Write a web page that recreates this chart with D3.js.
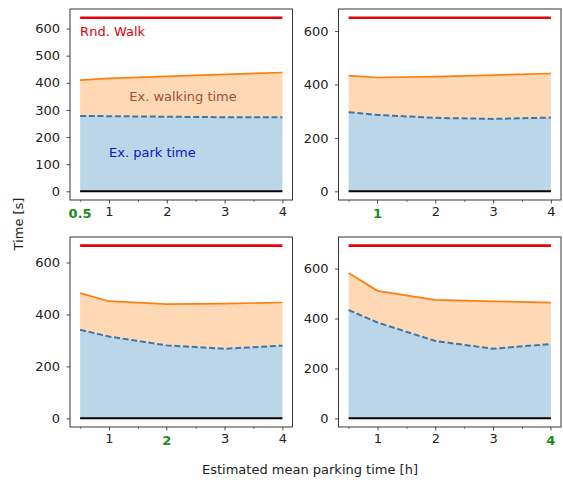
<!DOCTYPE html>
<html>
<head>
<meta charset="utf-8">
<script src="https://cdn.jsdelivr.net/npm/d3@7"></script>
<style>
	body { margin: 0; background: #fff; }
	svg { font-family: "DejaVu Sans", sans-serif; }
</style>
</head>
<body>
<svg id="chart" width="563" height="482"></svg>
<script>
// estimated mean parking time [h]
var hours = [ 0.5, 1, 2, 3, 4 ];
var minorHours = [ 0.5, 1.5, 2.5, 3.5 ];
var majorHours = [ 1, 2, 3, 4 ];
// which hour each panel stands for (green tick)
var panelHour = [ 0.5, 1, 2, 4 ];
var panelHourLabel = [ "0.5", "1", "2", "4" ];

// random walk time per panel
var rndWalk = [ 640, 650, 665, 692 ];

// expected walking time (upper edge), per panel
var walkTop = [
	[ 410, 416, 424, 431, 438 ],
	[ 433, 426, 429, 435, 441 ],
	[ 482, 451, 440, 442, 446 ],
	[ 582, 511, 475, 469, 464 ]
];

// expected park time, per panel
var parkTime = [
	[ 278, 277, 275, 273, 273 ],
	[ 296, 286, 275, 271, 276 ],
	[ 341, 315, 281, 268, 280 ],
	[ 434, 384, 310, 279, 298 ]
];

var yTicks = [
	[ 0, 100, 200, 300, 400, 500, 600 ],
	[ 0, 200, 400, 600 ],
	[ 0, 200, 400, 600 ],
	[ 0, 200, 400, 600 ]
];

var svg = d3.select( "#chart" );

var boxes = [
	{ left: 70,    top: 9,   width: 222.5, height: 191 },
	{ left: 338.5, top: 9,   width: 222.5, height: 191 },
	{ left: 70,    top: 237, width: 222.5, height: 190 },
	{ left: 338.5, top: 237, width: 222.5, height: 190 }
];

var fontSize = 13;
var blueFill = "rgba(31,119,180,0.3)";
var orangeFill = "rgba(255,127,14,0.3)";

boxes.forEach( function( box, i )
{
	// matplotlib style 5% margins
	var xPad = ( 4 - 0.5 ) * 0.05;
	var yPad = rndWalk[ i ] * 0.05;

	var x = d3.scaleLinear()
		.domain( [ 0.5 - xPad, 4 + xPad ] )
		.range( [ 0, box.width ] );
	var y = d3.scaleLinear()
		.domain( [ -yPad, rndWalk[ i ] + yPad ] )
		.range( [ box.height, 0 ] );

	var g = svg.append( "g" )
		.attr( "transform", "translate(" + box.left + "," + box.top + ")" );

	var rows = hours.map( function( h, k ) {
		return { h: h, park: parkTime[ i ][ k ], walk: walkTop[ i ][ k ] };
	} );

	// filled areas
	g.append( "path" )
		.datum( rows )
		.attr( "fill", blueFill )
		.attr( "d", d3.area()
			.x( function( d ) { return x( d.h ); } )
			.y0( y( 0 ) )
			.y1( function( d ) { return y( d.park ); } ) );

	g.append( "path" )
		.datum( rows )
		.attr( "fill", orangeFill )
		.attr( "d", d3.area()
			.x( function( d ) { return x( d.h ); } )
			.y0( function( d ) { return y( d.park ); } )
			.y1( function( d ) { return y( d.walk ); } ) );

	// zero line
	g.append( "path" )
		.datum( rows )
		.attr( "fill", "none" )
		.attr( "stroke", "black" )
		.attr( "stroke-width", 2 )
		.attr( "d", d3.line()
			.x( function( d ) { return x( d.h ); } )
			.y( y( 0 ) ) );

	// walking time line
	g.append( "path" )
		.datum( rows )
		.attr( "fill", "none" )
		.attr( "stroke", "#ff7f0e" )
		.attr( "stroke-width", 1.7 )
		.attr( "d", d3.line()
			.x( function( d ) { return x( d.h ); } )
			.y( function( d ) { return y( d.walk ); } ) );

	// park time line (dashed)
	g.append( "path" )
		.datum( rows )
		.attr( "fill", "none" )
		.attr( "stroke", "#3d77a8" )
		.attr( "stroke-width", 2 )
		.attr( "stroke-dasharray", "6,2.7" )
		.attr( "d", d3.line()
			.x( function( d ) { return x( d.h ); } )
			.y( function( d ) { return y( d.park ); } ) );

	// random walk line
	g.append( "path" )
		.datum( rows )
		.attr( "fill", "none" )
		.attr( "stroke", "#e8000b" )
		.attr( "stroke-width", 2.6 )
		.attr( "d", d3.line()
			.x( function( d ) { return x( d.h ); } )
			.y( y( rndWalk[ i ] ) ) );

	// axes
	var yAxis = g.append( "g" )
		.call( d3.axisLeft( y ).tickValues( yTicks[ i ] ).tickSize( 3.5 ).tickPadding( 6.5 ).tickFormat( d3.format( "d" ) ) );
	yAxis.select( ".domain" ).remove();
	yAxis.selectAll( "text" ).attr( "font-size", fontSize ).attr( "fill", "#222" ).attr( "font-family", "DejaVu Sans" );
	yAxis.selectAll( "line" ).attr( "stroke", "#222" ).attr( "stroke-width", 0.8 );

	var xMinor = g.append( "g" )
		.attr( "transform", "translate(0," + box.height + ")" )
		.call( d3.axisBottom( x ).tickValues( minorHours ).tickSize( 2 ).tickFormat( "" ) );
	xMinor.select( ".domain" ).remove();
	xMinor.selectAll( "line" ).attr( "stroke", "#222" ).attr( "stroke-width", 0.6 );

	var major = majorHours.filter( function( h ) { return h != panelHour[ i ]; } );
	var xAxis = g.append( "g" )
		.attr( "transform", "translate(0," + box.height + ")" )
		.call( d3.axisBottom( x ).tickValues( major ).tickSize( 3.5 ).tickPadding( 3.5 ).tickFormat( d3.format( "d" ) ) );
	xAxis.select( ".domain" ).remove();
	xAxis.selectAll( "text" ).attr( "font-size", fontSize ).attr( "fill", "#222" ).attr( "font-family", "DejaVu Sans" );
	xAxis.selectAll( "line" ).attr( "stroke", "#222" ).attr( "stroke-width", 0.8 );

	// highlighted tick for this panel
	if( panelHour[ i ] != 0.5 )
	{
		g.append( "line" )
			.attr( "x1", x( panelHour[ i ] ) ).attr( "x2", x( panelHour[ i ] ) )
			.attr( "y1", box.height ).attr( "y2", box.height + 3.5 )
			.attr( "stroke", "#222" ).attr( "stroke-width", 0.8 );
	}
	g.append( "text" )
		.attr( "x", x( panelHour[ i ] ) )
		.attr( "y", box.height + 18 )
		.attr( "text-anchor", "middle" )
		.attr( "font-size", 13 )
		.attr( "font-weight", "bold" )
		.attr( "fill", "#1a8a1a" )
		.text( panelHourLabel[ i ] );

	// frame
	g.append( "rect" )
		.attr( "width", box.width )
		.attr( "height", box.height )
		.attr( "fill", "none" )
		.attr( "stroke", "#222" )
		.attr( "stroke-width", 0.9 );

	// annotations on the first panel only
	if( i == 0 )
	{
		g.append( "text" )
			.attr( "x", x( 0.5 ) ).attr( "y", y( 572 ) )
			.attr( "font-size", fontSize ).attr( "fill", "#e8000b" )
			.text( "Rnd. Walk" );
		g.append( "text" )
			.attr( "x", x( 1.35 ) ).attr( "y", y( 332 ) )
			.attr( "font-size", fontSize ).attr( "fill", "#a0522d" )
			.text( "Ex. walking time" );
		g.append( "text" )
			.attr( "x", x( 1.0 ) ).attr( "y", y( 127 ) )
			.attr( "font-size", fontSize ).attr( "fill", "#1010d0" )
			.text( "Ex. park time" );
	}
} );

svg.append( "text" )
	.attr( "transform", "translate(23,224) rotate(-90)" )
	.attr( "text-anchor", "middle" )
	.attr( "font-size", fontSize )
	.attr( "fill", "#222" )
	.text( "Time [s]" );

svg.append( "text" )
	.attr( "x", 310 )
	.attr( "y", 474 )
	.attr( "text-anchor", "middle" )
	.attr( "font-size", fontSize )
	.attr( "fill", "#222" )
	.text( "Estimated mean parking time [h]" );
</script>
</body>
</html>
